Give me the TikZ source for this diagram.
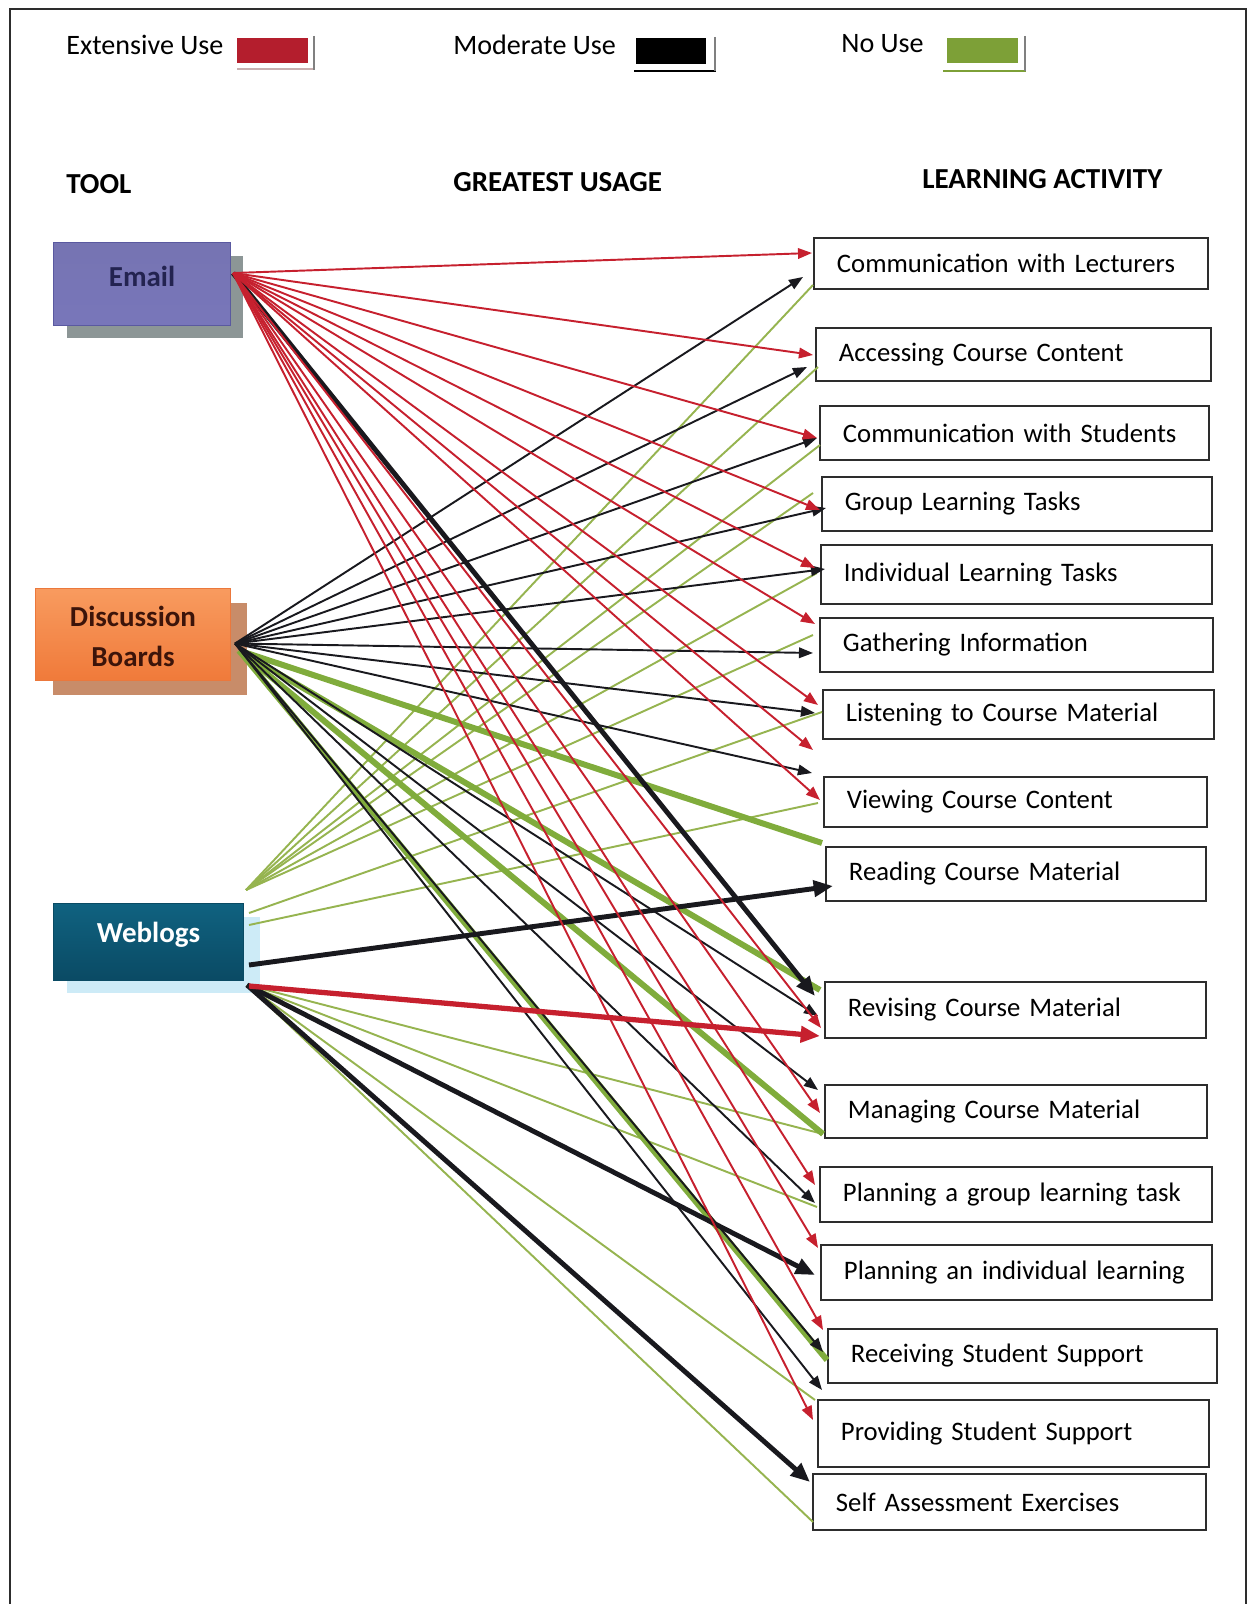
\documentclass[tikz,border=0pt]{standalone}
\usepackage{fontspec}
\setmainfont{Carlito}
\usetikzlibrary{arrows.meta,calc}
\definecolor{lred}{RGB}{198,32,46}
\definecolor{lblack}{RGB}{25,25,30}
\definecolor{lgthin}{RGB}{150,180,80}
\definecolor{lgthick}{RGB}{128,172,60}
\definecolor{legred}{RGB}{180,30,45}
\definecolor{leggreen}{RGB}{125,160,55}
\definecolor{boxline}{RGB}{45,45,45}
\newcommand\mkact[6]{%
  \pgfmathsetmacro\abw{(#4-#2)*0.02}%
  \pgfmathsetmacro\abh{(#5-#3)*0.02}%
  \pgfmathsetmacro\abt{(#4-#2-46)*0.02}%
  \node[actbox, minimum width=\abw cm, minimum height=\abh cm, text width=\abt cm, anchor=north west] (#1) at (#2,#3) {#6};}
\begin{document}
\begin{tikzpicture}[x=0.02cm,y=-0.02cm,
  font=\fontsize{15.2}{18}\selectfont,
  actbox/.style={draw=boxline, line width=1.1pt, fill=white, align=left, inner xsep=0.46cm},
  legtxt/.style={font=\fontsize{16}{19}\selectfont, anchor=base west, inner sep=0pt},
  headtxt/.style={font=\fontsize{16.5}{19}\selectfont\bfseries, anchor=base west, inner sep=0pt},
  toolbox/.style={font=\fontsize{16.5}{22.7}\selectfont\bfseries, anchor=north west, align=center, inner sep=0pt, line width=0.6pt},
  gthin/.style={draw=lgthin, line width=1.1pt},
  gthick/.style={draw=lgthick, line width=3.4pt},
  kthin/.style={draw=lblack, line width=1.1pt, -{Triangle[length=8pt,width=6pt]}},
  rthin/.style={draw=lred, line width=1.1pt, -{Triangle[length=8pt,width=6pt]}},
  kthick/.style={draw=lblack, line width=2.8pt, -{Triangle[length=11pt,width=9pt]}},
  rthick/.style={draw=lred, line width=3pt, -{Triangle[length=11pt,width=9pt]}}
  ]
\useasboundingbox (0,0) rectangle (1255,1604);
% frame
\draw[line width=0.9pt, boxline] (10,1604) -- (10,9) -- (1246,9) -- (1246,1604);

% legend
\node[legtxt] (lt1) at (66,55) {Extensive Use};
\draw[line width=1.2pt, color={rgb,255:red,200;green,175;blue,175}] (237,69) -- (315,69);
\draw[line width=0.8pt, gray] (314,36) -- (314,70);
\node[fill=legred, minimum width=1.42cm, minimum height=0.5cm, anchor=north west, inner sep=0pt] (lg1) at (237,38) {};
\node[legtxt] (lt2) at (453,55) {Moderate Use};
\draw[line width=1.5pt, black] (634,71) -- (716,71);
\draw[line width=0.8pt, gray] (715,37) -- (715,71);
\node[fill=black, minimum width=1.4cm, minimum height=0.52cm, anchor=north west, inner sep=0pt] (lg2) at (636,38) {};
\node[legtxt] (lt3) at (841,53) {No Use};
\draw[line width=1.5pt, leggreen] (943,71) -- (1026,71);
\draw[line width=0.8pt, gray] (1025,36) -- (1025,71);
\node[fill=leggreen, minimum width=1.42cm, minimum height=0.5cm, anchor=north west, inner sep=0pt] (lg3) at (947,38) {};

% headers
\node[headtxt] (h1) at (66,194) {TOOL};
\node[headtxt] (h2) at (453,192) {GREATEST USAGE};
\node[headtxt] (h3) at (922,189) {LEARNING ACTIVITY};

% tool boxes
\fill[color={rgb,255:red,140;green,150;blue,150}] (67,256) rectangle (243,338);
\node[toolbox, minimum width=3.54cm, minimum height=1.66cm, text depth=0.32cm, draw={rgb,255:red,90;green,89;blue,160},
  top color={rgb,255:red,118;green,116;blue,178}, middle color={rgb,255:red,152;green,151;blue,206}, bottom color={rgb,255:red,120;green,118;blue,186},
  text={rgb,255:red,35;green,35;blue,80}] (email) at (53,242) {Email};
\fill[color={rgb,255:red,200;green,140;blue,105}] (53,603) rectangle (247,695);
\node[toolbox, minimum width=3.9cm, minimum height=1.84cm, draw={rgb,255:red,235;green,120;blue,60},
  top color={rgb,255:red,248;green,155;blue,95}, bottom color={rgb,255:red,240;green,122;blue,58},
  text={rgb,255:red,60;green,20;blue,10}] (db) at (35,588) {\rule{0pt}{0.5cm}Discussion\\Boards};
\fill[color={rgb,255:red,205;green,235;blue,247}] (67,917) rectangle (260,993);
\node[toolbox, minimum width=3.8cm, minimum height=1.54cm, text depth=0.4cm, draw={rgb,255:red,10;green,75;blue,100},
  top color={rgb,255:red,16;green,98;blue,128}, bottom color={rgb,255:red,10;green,74;blue,100},
  text=white] (wb) at (53,903) {Weblogs};

% activity boxes
\mkact{t1}{813}{237}{1207}{288}{Communication with Lecturers}
\mkact{t2}{815}{327}{1210}{380}{Accessing Course Content}
\mkact{t3}{819}{405}{1208}{459}{Communication with Students}
\mkact{t4}{821}{476}{1211}{530}{Group Learning Tasks}
\mkact{t5}{820}{544}{1211}{603}{Individual Learning Tasks}
\mkact{t6}{819}{617}{1212}{671}{Gathering Information}
\mkact{t7}{822}{689}{1213}{738}{Listening to Course Material}
\mkact{t8}{823}{776}{1206}{826}{Viewing Course Content}
\mkact{t9}{825}{846}{1205}{900}{Reading Course Material}
\mkact{t10}{824}{981}{1205}{1037}{Revising Course Material}
\mkact{t11}{824}{1084}{1206}{1137}{Managing Course Material}
\mkact{t12}{819}{1166}{1211}{1221}{Planning a group learning task}
\mkact{t13}{820}{1244}{1211}{1299}{Planning an individual learning}
\mkact{t14}{827}{1328}{1216}{1382}{Receiving Student Support}
\mkact{t15}{817}{1399}{1208}{1466}{Providing Student Support}
\mkact{t16}{812}{1473}{1205}{1529}{Self Assessment Exercises}

% ports
\coordinate (Es) at ([shift={(2,-11)}]email.east);
\coordinate (Dk) at ([shift={(4,9)}]db.east);
\coordinate (Dg) at ([shift={(8,16)}]db.east);
\coordinate (Wu) at ([shift={(2,-13)}]wb.north east);
\coordinate (Wm1) at ([shift={(5,10)}]wb.north east);
\coordinate (Wm2) at ([shift={(5,22)}]wb.north east);
\coordinate (Wk) at ([shift={(5,62)}]wb.north east);
\coordinate (Wr) at ([shift={(5,83)}]wb.north east);
\coordinate (Wl) at ([shift={(3,82)}]wb.north east);

% green thin (no use) from weblogs
\draw[gthin] (Wu) -- ([shift={(0,48)}]t1.north west);
\draw[gthin] (Wu) -- ([shift={(3,40)}]t2.north west);
\draw[gthin] (Wu) -- ([shift={(1,40)}]t3.north west);
\draw[gthin] (Wu) -- ([shift={(-8,17)}]t4.north west);
\draw[gthin] (Wu) -- ([shift={(-3,29)}]t5.north west);
\draw[gthin] (Wu) -- ([shift={(-6,18)}]t6.north west);
\draw[gthin] (Wm1) -- ([shift={(0,23)}]t7.north west);
\draw[gthin] (Wm2) -- ([shift={(-5,27)}]t8.north west);
\draw[gthin] (Wl) -- ([shift={(-1,50)}]t11.north west);
\draw[gthin] (Wl) -- ([shift={(-2,41)}]t12.north west);
\draw[gthin] (Wl) -- ([shift={(-2,1)}]t15.north west);
\draw[gthin] (Wl) -- ([shift={(1,49)}]t16.north west);
% green thick from discussion boards
\draw[gthick] (Dg) -- ([shift={(-3,-3)}]t9.north west);
\draw[gthick] (Dg) -- ([shift={(-4,9)}]t10.north west);
\draw[gthick] (Dg) -- ([shift={(-1,50)}]t11.north west);
\draw[gthick] (Dg) -- ([shift={(0,32)}]t14.north west);
% black thin from discussion boards
\draw[kthin] (Dk) -- ([shift={(-10,40)}]t1.north west);
\draw[kthin] (Dk) -- ([shift={(-8,40)}]t2.north west);
\draw[kthin] (Dk) -- ([shift={(-2,33)}]t3.north west);
\draw[kthin] (Dk) -- ([shift={(5,32)}]t4.north west);
\draw[kthin] (Dk) -- ([shift={(5,25)}]t5.north west);
\draw[kthin] (Dk) -- ([shift={(-6,36)}]t6.north west);
\draw[kthin] (Dk) -- ([shift={(-7,24)}]t7.north west);
\draw[kthin] (Dk) -- ([shift={(-11,-3)}]t8.north west);
\draw[kthin] (Dk) -- ([shift={(-6,35)}]t10.north west);
\draw[kthin] (Dk) -- ([shift={(-6,6)}]t11.north west);
\draw[kthin] (Dk) -- ([shift={(-4,37)}]t12.north west);
\draw[kthin] (Dk) -- ([shift={(-4,24)}]t14.north west);
\draw[kthin] (Dk) -- ([shift={(5,-9)}]t15.north west);
% black thick
\draw[kthick] (Es) -- ([shift={(-9,15)}]t10.north west);
\draw[kthick] (Wk) -- ([shift={(8,40)}]t9.north west);
\draw[kthick] (Wl) -- ([shift={(-5,31)}]t13.north west);
\draw[kthick] (Wl) -- ([shift={(-2,9)}]t16.north west);
% red thin from email
\draw[rthin] (Es) -- ([shift={(-1,16)}]t1.north west);
\draw[rthin] (Es) -- ([shift={(-2,28)}]t2.north west);
\draw[rthin] (Es) -- ([shift={(-2,33)}]t3.north west);
\draw[rthin] (Es) -- ([shift={(-1,34)}]t4.north west);
\draw[rthin] (Es) -- ([shift={(-5,24)}]t5.north west);
\draw[rthin] (Es) -- ([shift={(-4,7)}]t6.north west);
\draw[rthin] (Es) -- ([shift={(-4,16)}]t7.north west);
\draw[rthin] (Es) -- ([shift={(-10,-26)}]t8.north west);
\draw[rthin] (Es) -- ([shift={(-3,24)}]t8.north west);
\draw[rthin] (Es) -- ([shift={(-3,47)}]t10.north west);
\draw[rthin] (Es) -- ([shift={(-4,29)}]t11.north west);
\draw[rthin] (Es) -- ([shift={(-4,19)}]t12.north west);
\draw[rthin] (Es) -- ([shift={(-2,4)}]t13.north west);
\draw[rthin] (Es) -- ([shift={(-4,2)}]t14.north west);
\draw[rthin] (Es) -- ([shift={(-4,21)}]t15.north west);
% red thick from weblogs
\draw[rthick] (Wr) -- ([shift={(-4,55)}]t10.north west);
\end{tikzpicture}
\end{document}
